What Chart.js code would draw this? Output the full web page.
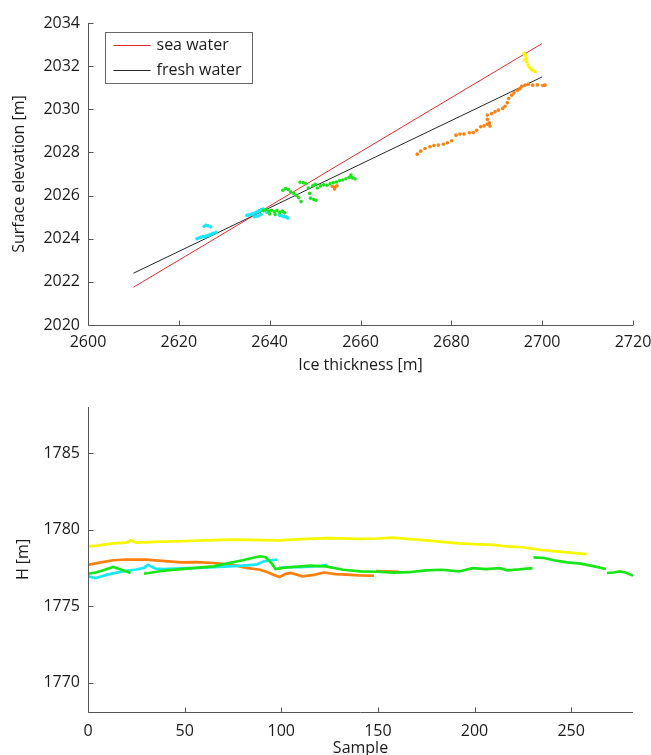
<!DOCTYPE html>
<html lang="en">
<head>
<meta charset="UTF-8" />
<title>Surface elevation vs ice thickness</title>
<style>
  html, body { margin: 0; background: #fff; overflow: hidden; }
  canvas { position: absolute; left: 0; }
  #topChart { top: 0; }
  #bottomChart { top: 380px; }
</style>
</head>
<body>
<canvas id="topChart" width="651" height="375"></canvas>
<canvas id="bottomChart" width="651" height="378"></canvas>
<script src="https://cdn.jsdelivr.net/npm/chart.js@4.4.1/dist/chart.umd.min.js"></script>
<script>
// ---- top panel: flotation lines ----
const seaThick = [2610, 2700];
const seaElev = [2021.75, 2033.05];
const freshThick = [2610, 2700];
const freshElev = [2022.4, 2031.5];

// ---- top panel: measured points ----
const cyanThick = [2624.0, 2624.4, 2624.8, 2625.3, 2625.7, 2626.0, 2626.4, 2626.8, 2627.2, 2627.6, 2628.2, 2625.6, 2626.0, 2626.4, 2627.0,
  2635.0, 2635.4, 2635.8, 2636.2, 2636.6, 2637.0, 2637.4, 2637.8, 2638.2, 2638.6, 2639.0, 2639.4, 2636.6, 2637.1, 2637.6, 2638.1,
  2642.2, 2642.7, 2643.2, 2643.7, 2644.0];
const cyanElev = [2024.0, 2024.03, 2024.06, 2024.1, 2024.08, 2024.12, 2024.15, 2024.18, 2024.22, 2024.25, 2024.3, 2024.58, 2024.62, 2024.6, 2024.55,
  2025.08, 2025.1, 2025.12, 2025.15, 2025.18, 2025.22, 2025.25, 2025.3, 2025.35, 2025.38, 2025.3, 2025.22, 2025.02, 2025.04, 2025.06, 2025.12,
  2025.08, 2025.05, 2025.02, 2025.0, 2024.96];
const greenThick = [2638.6, 2639.2, 2639.8, 2640.4, 2641.0, 2641.6, 2642.2, 2642.8, 2643.3, 2640.0, 2641.2,
  2642.9, 2643.5, 2644.1, 2644.6, 2645.3, 2645.9, 2646.4, 2646.9, 2646.7, 2647.4, 2648.0, 2648.5, 2648.8,
  2649.0, 2649.7, 2650.2, 2650.5, 2651.2, 2651.9, 2652.6, 2653.3, 2654.0, 2654.7, 2655.4, 2656.1, 2656.8,
  2657.5, 2658.2, 2658.8, 2657.9, 2649.5, 2650.0];
const greenElev = [2025.3, 2025.35, 2025.28, 2025.32, 2025.25, 2025.3, 2025.22, 2025.28, 2025.2, 2025.15, 2025.12,
  2026.25, 2026.33, 2026.28, 2026.18, 2026.1, 2026.0, 2025.9, 2025.72, 2026.62, 2026.6, 2026.55, 2026.35, 2026.1,
  2025.88, 2025.82, 2025.78, 2026.35, 2026.45, 2026.5, 2026.48, 2026.55, 2026.6, 2026.63, 2026.7, 2026.72, 2026.78,
  2026.85, 2026.82, 2026.78, 2026.95, 2026.45, 2026.52];
const orangeThick = [2653.8, 2654.3, 2654.8, 2654.3,
  2672.5, 2673.25, 2674.2, 2675.3, 2676.18, 2677.14, 2678.24, 2679.12, 2680.07, 2681.03, 2681.91, 2682.79,
  2683.96, 2684.84, 2685.58, 2686.46, 2687.19, 2687.93, 2688.51, 2688.37, 2687.93, 2687.93, 2688.88, 2689.61,
  2690.35, 2691.3, 2691.82, 2692.33, 2692.62, 2693.28, 2693.8, 2694.53, 2695.12, 2695.48, 2696.22, 2696.95,
  2697.91, 2698.94, 2700.11, 2700.62];
const orangeElev = [2026.42, 2026.38, 2026.45, 2026.3,
  2027.92, 2028.06, 2028.18, 2028.26, 2028.32, 2028.34, 2028.38, 2028.45, 2028.54, 2028.8, 2028.85, 2028.85,
  2028.91, 2028.92, 2029.03, 2029.19, 2029.23, 2029.31, 2029.22, 2029.37, 2029.53, 2029.73, 2029.8, 2029.88,
  2029.96, 2030.04, 2030.14, 2030.3, 2030.5, 2030.65, 2030.76, 2030.88, 2030.96, 2031.07, 2031.12, 2031.16,
  2031.12, 2031.13, 2031.1, 2031.12];
const yellowThick = [2696.0, 2696.3, 2696.2, 2696.5, 2696.6, 2696.9, 2697.2, 2697.6, 2698.0, 2698.4];
const yellowElev = [2032.58, 2032.5, 2032.3, 2032.35, 2032.2, 2032.05, 2031.95, 2031.85, 2031.8, 2031.75];

const thickTicks = [2600, 2620, 2640, 2660, 2680, 2700, 2720];
const elevTicks = [2020, 2022, 2024, 2026, 2028, 2030, 2032, 2034];

// ---- bottom panel: H along samples ----
const yellowSample = [0, 5, 13, 20, 22, 25, 35, 48, 60, 75, 90, 99, 110, 124, 140, 150, 158, 165, 175, 183, 192, 200, 210, 217, 225, 234, 241, 251, 258];
const yellowH = [1778.9, 1778.95, 1779.1, 1779.15, 1779.3, 1779.15, 1779.2, 1779.24, 1779.3, 1779.35, 1779.32, 1779.3, 1779.38, 1779.44, 1779.4, 1779.42, 1779.48, 1779.4, 1779.3, 1779.2, 1779.1, 1779.05, 1779.0, 1778.9, 1778.85, 1778.68, 1778.6, 1778.48, 1778.4];
const orangeSample = [0, 6, 13, 20, 30, 40, 48, 56, 65, 75, 82, 89, 93, 96, 99, 102, 105, 111, 117, 122, 128, 134, 140, 148];
const orangeH = [1777.7, 1777.85, 1778.0, 1778.05, 1778.04, 1777.95, 1777.86, 1777.88, 1777.82, 1777.7, 1777.5, 1777.38, 1777.22, 1777.05, 1776.9, 1777.1, 1777.17, 1776.95, 1777.05, 1777.2, 1777.1, 1777.06, 1777.02, 1776.99];
const orange2Sample = [149, 155, 161];
const orange2H = [1777.3, 1777.28, 1777.25];
const cyanSample = [0, 4, 10, 18, 25, 29, 31, 35, 39, 48, 56, 65, 73, 80, 87, 91, 95, 98];
const cyanH = [1776.95, 1776.84, 1777.06, 1777.27, 1777.4, 1777.5, 1777.7, 1777.45, 1777.43, 1777.48, 1777.5, 1777.55, 1777.6, 1777.65, 1777.71, 1777.93, 1778.0, 1778.04];
const cyan2Sample = [99, 104, 110, 116, 120, 124];
const cyan2H = [1777.5, 1777.55, 1777.55, 1777.6, 1777.62, 1777.7];
const greenASample = [0, 4, 8, 13, 17, 22];
const greenAH = [1777.12, 1777.2, 1777.35, 1777.56, 1777.4, 1777.17];
const greenBSample = [29, 38, 48, 56, 65, 73, 80, 85, 89, 92, 95, 97, 101, 106, 115, 123, 132, 141, 150, 158, 166, 175, 183, 192, 199, 206, 213, 217, 223, 230];
const greenBH = [1777.12, 1777.3, 1777.42, 1777.5, 1777.6, 1777.82, 1778.0, 1778.15, 1778.26, 1778.2, 1777.8, 1777.43, 1777.5, 1777.56, 1777.65, 1777.6, 1777.38, 1777.27, 1777.25, 1777.2, 1777.22, 1777.34, 1777.38, 1777.27, 1777.49, 1777.42, 1777.48, 1777.34, 1777.4, 1777.49];
const greenCSample = [230.5, 236, 241, 248, 255, 262, 268];
const greenCH = [1778.19, 1778.15, 1778.0, 1777.86, 1777.78, 1777.6, 1777.43];
const greenDSample = [268.5, 272, 275, 278, 282];
const greenDH = [1777.17, 1777.2, 1777.27, 1777.2, 1777.0];

const sampleTicks = [0, 50, 100, 150, 200, 250];
const hTicks = [1770, 1775, 1780, 1785];

const FONT = { family: "'Open Sans', sans-serif", size: 16 };
const TEXT = "#1a1a1a";
const AXIS = "#555";
const C_YELLOW = "#f7f700", C_ORANGE = "#ff7f0f", C_GREEN = "#19e619", C_CYAN = "#19e8f5";

const toPts = (xs, ys) => xs.map((x, i) => ({ x: x, y: ys[i] }));

// matlab style axes: left + bottom line, ticks pointing inward
const matlabAxes = {
  id: "matlabAxes",
  afterDatasetsDraw(chart) {
    const { ctx, chartArea: a, scales } = chart;
    const L = Math.round(a.left) + 0.5, B = Math.round(a.bottom) + 0.5;
    ctx.save();
    ctx.strokeStyle = AXIS;
    ctx.lineWidth = 1;
    ctx.beginPath();
    ctx.moveTo(L, Math.round(a.top));
    ctx.lineTo(L, B);
    ctx.lineTo(Math.round(a.right), B);
    scales.x.ticks.forEach(t => {
      const px = Math.round(scales.x.getPixelForValue(t.value)) + 0.5;
      ctx.moveTo(px, B); ctx.lineTo(px, B - 5);
    });
    scales.y.ticks.forEach(t => {
      const py = Math.round(scales.y.getPixelForValue(t.value)) + 0.5;
      ctx.moveTo(L, py); ctx.lineTo(L + 5, py);
    });
    ctx.stroke();
    ctx.restore();
  }
};

const legendBox = {
  id: "legendBox",
  afterDraw(chart) {
    const ctx = chart.ctx;
    const a = chart.chartArea;
    const x0 = Math.round(a.left) + 17.5, y0 = 32.5;
    const entries = chart.data.datasets.filter(d => d.inLegend);
    ctx.save();
    ctx.fillStyle = "#fff";
    ctx.fillRect(x0, y0, 147, 51);
    ctx.strokeStyle = "#666";
    ctx.lineWidth = 1;
    ctx.strokeRect(x0, y0, 147, 51);
    ctx.font = FONT.size + "px " + FONT.family;
    ctx.textBaseline = "middle";
    entries.forEach((d, i) => {
      const y = 45.5 + i * 25;
      ctx.strokeStyle = d.borderColor;
      ctx.beginPath();
      ctx.moveTo(x0 + 8, y); ctx.lineTo(x0 + 45, y);
      ctx.stroke();
      ctx.fillStyle = TEXT;
      ctx.fillText(d.label, x0 + 51, y);
    });
    ctx.restore();
  }
};

function axis(min, max, ticks, title, size, horizontal, tickPad, titlePad) {
  return {
    type: "linear",
    min: min,
    max: max,
    afterBuildTicks: s => { s.ticks = ticks.map(v => ({ value: v })); },
    afterFit: s => {
      if (horizontal) s.height = size; else s.width = size;
      // keep the plot box fixed, labels may overhang the padding
      s.paddingLeft = 0; s.paddingRight = 0; s.paddingTop = 0; s.paddingBottom = 0;
    },
    grid: { display: false, drawTicks: false },
    border: { display: false },
    ticks: { font: FONT, color: TEXT, padding: tickPad, callback: v => String(v) },
    title: { display: true, text: title, font: FONT, color: TEXT, padding: titlePad }
  };
}

const dots = (label, xs, ys, color) => ({
  label: label, data: toPts(xs, ys), backgroundColor: color,
  pointRadius: 1.8, pointBorderWidth: 0, pointHoverRadius: 1.8, showLine: false
});
const line = (label, xs, ys, color, width, inLegend) => ({
  label: label, data: toPts(xs, ys), borderColor: color, borderWidth: width,
  pointRadius: 0, showLine: true, fill: false, inLegend: inLegend
});

new Chart(document.getElementById("topChart"), {
  type: "scatter",
  data: {
    datasets: [
      dots("yellow", yellowThick, yellowElev, C_YELLOW),
      dots("orange", orangeThick, orangeElev, C_ORANGE),
      dots("green", greenThick, greenElev, C_GREEN),
      dots("cyan", cyanThick, cyanElev, C_CYAN),
      line("sea water", seaThick, seaElev, "#e8282a", 1, true),
      line("fresh water", freshThick, freshElev, "#262626", 1, true)
    ]
  },
  options: {
    responsive: false,
    animation: false,
    layout: { padding: { top: 23, right: 18, left: 0, bottom: 0 } },
    plugins: { legend: { display: false }, tooltip: { enabled: false } },
    scales: {
      x: axis(2600, 2720, thickTicks, "Ice thickness [m]", 50, true, 8, { top: 0, bottom: 0 }),
      y: axis(2020, 2034, elevTicks, "Surface elevation [m]", 88, false, 8, { top: 10, bottom: 0 })
    }
  },
  plugins: [matlabAxes, legendBox]
});

new Chart(document.getElementById("bottomChart"), {
  type: "scatter",
  data: {
    datasets: [
      line("yellow", yellowSample, yellowH, C_YELLOW, 2.7),
      line("green A", greenASample, greenAH, C_GREEN, 2.7),
      line("green B", greenBSample, greenBH, C_GREEN, 2.7),
      line("green C", greenCSample, greenCH, C_GREEN, 2.7),
      line("green D", greenDSample, greenDH, C_GREEN, 2.7),
      line("cyan", cyanSample, cyanH, C_CYAN, 2.7),
      line("cyan 2", cyan2Sample, cyan2H, C_CYAN, 2.7),
      line("orange", orangeSample, orangeH, C_ORANGE, 2.7),
      line("orange 2", orange2Sample, orange2H, C_ORANGE, 2.7)
    ]
  },
  options: {
    responsive: false,
    animation: false,
    layout: { padding: { top: 27, right: 18, left: 0, bottom: 0 } },
    plugins: { legend: { display: false }, tooltip: { enabled: false } },
    scales: {
      x: axis(0, 282, sampleTicks, "Sample", 46, true, 10, { top: 0, bottom: 0 }),
      y: axis(1768.1, 1788, hTicks, "H [m]", 88, false, 8, { top: 14, bottom: 0 })
    }
  },
  plugins: [matlabAxes]
});
</script>
</body>
</html>
